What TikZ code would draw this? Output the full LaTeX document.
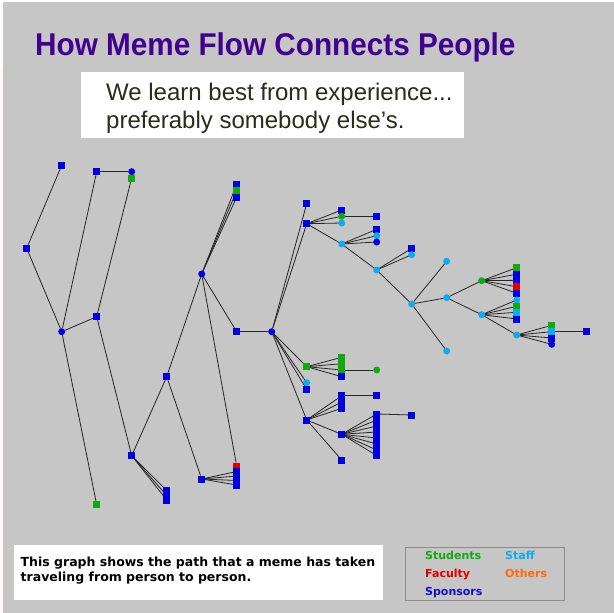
\documentclass[tikz,border=0pt]{standalone}
\usepackage{fontspec}
\setmainfont{Liberation Sans}
\newfontfamily\pixfont{DejaVu Sans}
\pgfdeclarelayer{bg}
\pgfdeclarelayer{edges}
\pgfsetlayers{bg,edges,main}
\definecolor{canvas}{HTML}{C6C6C6}
\definecolor{nblue}{HTML}{0000DD}
\definecolor{lblue}{HTML}{10AAEE}
\definecolor{ngreen}{HTML}{10AA10}
\definecolor{nred}{HTML}{DD0000}
\definecolor{norange}{HTML}{FF6A10}
\definecolor{legblue}{HTML}{1010C0}
\definecolor{titlec}{HTML}{42008F}
\definecolor{quotec}{HTML}{2B2B1B}
\tikzset{
  nd/.style={inner sep=0pt, minimum size=7pt, outer sep=0pt},
  bsq/.style={nd, rectangle, fill=nblue},
  bci/.style={nd, circle, fill=nblue},
  gsq/.style={nd, rectangle, fill=ngreen},
  gci/.style={nd, circle, fill=ngreen},
  rsq/.style={nd, rectangle, fill=nred},
  lci/.style={nd, circle, fill=lblue},
  lsq/.style={nd, rectangle, fill=lblue},
  ed/.style={draw=black!85, line width=0.8pt},
  legtxt/.style={anchor=base west, inner sep=0pt, font=\pixfont\bfseries\fontsize{11}{13}\selectfont},
  bottxt/.style={anchor=base west, inner sep=0pt, font=\pixfont\bfseries\fontsize{12.5}{15}\selectfont},
  quotetxt/.style={anchor=base west, inner sep=0pt, text=quotec, font=\fontsize{24}{28}\selectfont}
}
\begin{document}
\begin{tikzpicture}[x=1pt,y=-1pt]
\useasboundingbox (0,0) rectangle (614,613);
\begin{pgfonlayer}{bg}
  \fill[white] (0,0) rectangle (614,613);
  \fill[canvas] (3,2) rectangle (614,613);
  \draw[red!30, line width=0.8pt] (3.4,67) -- (3.4,613);
  \fill[white] (81,72) rectangle (464,138);
  \fill[white] (14,545) rectangle (383,600);
  \draw[black!45, line width=1pt] (405,547) rectangle (564,600);
\end{pgfonlayer}

% texts
\node[anchor=base west, inner sep=0pt, text=titlec, font=\bfseries\fontsize{31.5}{36}\selectfont] (title) at (35,55) {\scalebox{0.943}[1]{How Meme Flow Connects People}};
\node[quotetxt] (q1) at (106,100) {We learn best from experience...};
\node[quotetxt] (q2) at (106,128) {preferably somebody else{\char"0027}s.};
\node[bottxt] (b1) at (20.5,566.7) {This graph shows the path that a meme has taken};
\node[bottxt] (b2) at (20.5,581.7) {traveling from person to person.};
\node[legtxt, text=ngreen] (lstu) at (425,559) {Students};
\node[legtxt, text=lblue] (lsta) at (505,559) {Staff};
\node[legtxt, text=nred] (lfac) at (425,577) {Faculty};
\node[legtxt, text=norange] (loth) at (505,577) {Others};
\node[legtxt, text=legblue] (lspo) at (425,595) {Sponsors};

% left part
\node[bsq] (A) at (61.7,165.3) {};
\node[bsq] (B) at (96.7,171.7) {};
\node[bci] (C) at (131.7,171.7) {};
\node[gsq] (C2) at (131.7,178) {};
\node[bsq] (D) at (26.7,248.3) {};
\node[bci] (E) at (61.7,331.7) {};
\node[bsq] (F) at (96.7,316.7) {};
\node[bci] (G) at (201.7,274) {};
\node[bsq] (H1) at (236.7,184.3) {};
\node[gsq] (H2) at (236.7,190.7) {};
\node[bsq] (H3) at (236.7,197) {};
\node[bsq] (I) at (236.7,331.7) {};
\node[bci] (J) at (271.7,331.7) {};
\node[gsq] (E2) at (96.7,504.7) {};
\node[bsq] (K) at (131.7,455.7) {};
\node[bsq] (K1) at (166.7,490.5) {};
\node[bsq] (K2) at (166.7,495.5) {};
\node[bsq] (K3) at (166.7,500) {};
\node[bsq] (L) at (166.7,376.7) {};
\node[bsq] (M) at (201.7,479) {};
\node[rsq] (R1) at (236.7,466) {};
\node[bsq] (M1) at (236.7,471.5) {};
\node[bsq] (M2) at (236.7,476) {};
\node[bsq] (M3) at (236.7,480.5) {};
\node[bsq] (M4) at (236.7,485) {};

% upper right
\node[bsq] (N) at (306.7,203.7) {};
\node[bsq] (O) at (306.7,223.7) {};
\node[bsq] (O1) at (341.7,210) {};
\node[gci] (O2) at (341.7,216.3) {};
\node[lci] (O3) at (341.7,223) {};
\node[lci] (P) at (341.7,244) {};
\node[bsq] (O2x) at (376.7,216.3) {};
\node[bsq] (P1) at (376.7,229.3) {};
\node[lci] (P2) at (376.7,235.7) {};
\node[bci] (P3) at (376.7,242) {};
\node[lci] (Q) at (376.7,270) {};
\node[bsq] (Q1) at (411.7,248.3) {};
\node[lci] (Q2) at (411.7,254.7) {};
\node[lci] (R) at (411.7,304) {};
\node[lci] (S) at (446.7,261.3) {};
\node[lci] (T) at (446.7,297.7) {};
\node[lci] (U) at (446.7,351) {};
\node[gci] (V) at (481.7,280.7) {};
\node[lci] (W) at (481.7,314.7) {};
\node[gsq] (V1) at (516.7,267.7) {};
\node[bsq] (V2) at (516.7,274.2) {};
\node[bsq] (V3) at (516.7,280.3) {};
\node[rsq] (V4) at (516.7,286.7) {};
\node[bsq] (V5) at (516.7,293.3) {};
\node[lci] (W1) at (516.7,300) {};
\node[gsq] (W2) at (516.7,306.3) {};
\node[lsq] (W3) at (516.7,312.3) {};
\node[bsq] (W4) at (516.7,319) {};
\node[lci] (X) at (516.7,335) {};
\node[gsq] (X1) at (551.7,325.3) {};
\node[lsq] (X2) at (551.7,331.7) {};
\node[bsq] (X3) at (551.7,338) {};
\node[bci] (X4) at (551.7,344.3) {};
\node[bsq] (X2x) at (586.7,331.7) {};

% lower right
\node[gsq] (Y) at (306.7,366.7) {};
\node[lci] (Jc) at (306.7,382.7) {};
\node[bsq] (Jb) at (306.7,389.3) {};
\node[bsq] (Z) at (306.7,420) {};
\node[gsq] (Y1) at (341.7,357.3) {};
\node[gsq] (Y2) at (341.7,363.7) {};
\node[gsq] (Y3) at (341.7,370) {};
\node[bsq] (Y4) at (341.7,376.7) {};
\node[gci] (Y3x) at (376.7,370) {};
\node[bsq] (Z1) at (341.7,395.7) {};
\node[bsq] (Z2) at (341.7,402) {};
\node[bsq] (Z3) at (341.7,408.3) {};
\node[bsq] (Z1x) at (376.7,395.7) {};
\node[bsq] (AA) at (341.7,434.3) {};
\node[bsq] (Z4) at (341.7,460) {};
\foreach \i/\yy in {1/414,2/420,3/426,4/432,5/438,6/444,7/450,8/455.5}
  \node[bsq] (AA\i) at (376.7,\yy) {};
\node[bsq] (AA1x) at (411.7,415) {};

\begin{pgfonlayer}{edges}
  \draw[ed] (A) -- (D);
  \draw[ed] (D) -- (E);
  \draw[ed] (E) -- (B);
  \draw[ed] (B) -- (C);
  \draw[ed] (C2) -- (F);
  \draw[ed] (E) -- (F);
  \draw[ed] (F) -- (K);
  \draw[ed] (E) -- (E2);
  \draw[ed] (K) -- (L);
  \draw[ed] (G) -- (L);
  \draw[ed] (L) -- (M);
  \foreach \t in {H1,H2,H3} \draw[ed] (G.center) -- (\t.center);
  \draw[ed] (G) -- (I);
  \draw[ed] (I) -- (J);
  \draw[ed] (G) -- (R1);
  \foreach \t in {M1,M2,M3,M4} \draw[ed] (M.center) -- (\t.center);
  \foreach \t in {K1,K2,K3} \draw[ed] (K.center) -- (\t.center);
  \draw[ed] (J) -- (N);
  \draw[ed] (J) -- (O);
  \foreach \t in {O1,O2,O3,P} \draw[ed] (O.center) -- (\t.center);
  \draw[ed] (O2) -- (O2x);
  \foreach \t in {P1,P2,P3,Q} \draw[ed] (P.center) -- (\t.center);
  \foreach \t in {Q1,Q2,R} \draw[ed] (Q.center) -- (\t.center);
  \foreach \t in {S,T,U} \draw[ed] (R.center) -- (\t.center);
  \foreach \t in {V,W} \draw[ed] (T.center) -- (\t.center);
  \foreach \t in {V1,V2,V3,V4,V5} \draw[ed] (V.center) -- (\t.center);
  \foreach \t in {W1,W2,W3,W4,X} \draw[ed] (W.center) -- (\t.center);
  \foreach \t in {X1,X2,X3,X4} \draw[ed] (X.center) -- (\t.center);
  \draw[ed] (X2) -- (X2x);
  \foreach \t in {Y,Jc,Jb,Z} \draw[ed] (J.center) -- (\t.center);
  \foreach \t in {Y1,Y2,Y3,Y4} \draw[ed] (Y.center) -- (\t.center);
  \draw[ed] (Y3) -- (Y3x);
  \foreach \t in {Z1,Z2,Z3,AA,Z4} \draw[ed] (Z.center) -- (\t.center);
  \draw[ed] (Z1) -- (Z1x);
  \foreach \i in {1,...,8} \draw[ed] (AA.center) -- (AA\i.center);
  \draw[ed] (AA1) -- (AA1x);
\end{pgfonlayer}
\end{tikzpicture}
\end{document}
